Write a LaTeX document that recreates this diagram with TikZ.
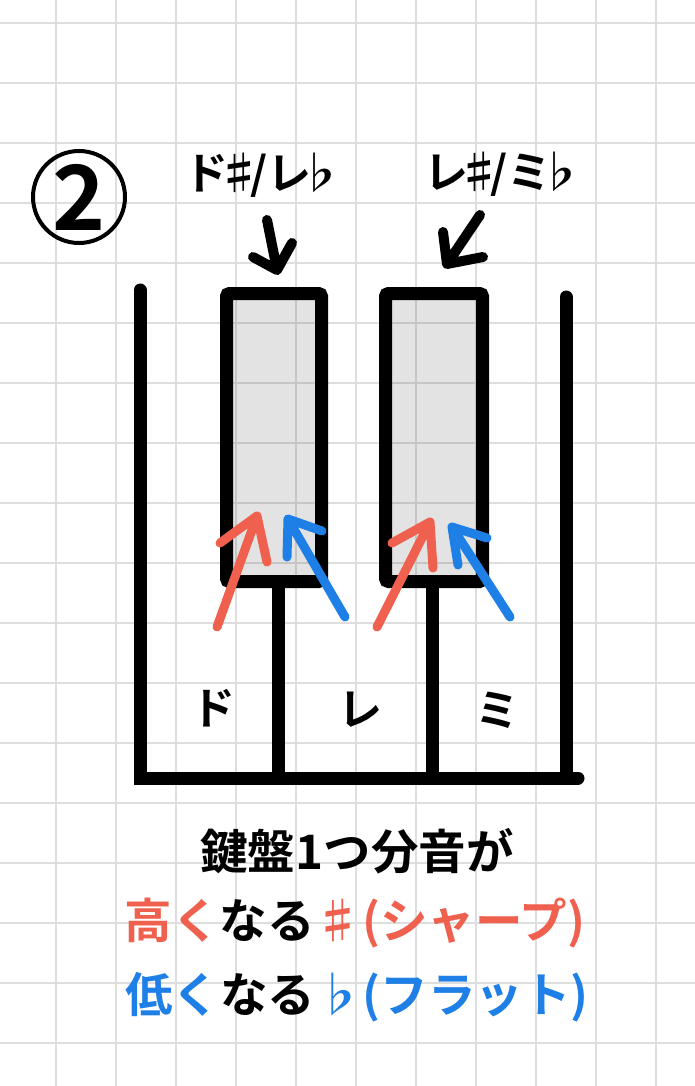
\documentclass[tikz,border=0pt]{standalone}
\usepackage{fontspec}
\newfontfamily\jp{Noto Sans CJK JP}[BoldFont={Noto Sans CJK JP Bold}]
\definecolor{sred}{HTML}{F0604E}
\definecolor{sblue}{HTML}{1E7FE6}
\definecolor{gridc}{HTML}{DEDEDE}
\newcommand\mysharp{\makebox[0.5em]{♯}}
\newcommand\myflat{\makebox[0.42em]{♭}}
\tikzset{
  gridline/.style={gridc, line width=2pt},
  keyline/.style={black, line width=13pt, line cap=round},
  blackkey/.style={draw=black, line width=13pt, rounded corners=3pt, fill=black, fill opacity=0.11, draw opacity=1},
  arr/.style={line width=9pt, line cap=round, line join=round},
  lbl/.style={font=\jp\bfseries\fontsize{44}{50}\selectfont, inner sep=0pt},
  big/.style={font=\jp\bfseries\fontsize{47.5}{52}\selectfont, inner sep=0pt},
}
\begin{document}
\begin{tikzpicture}[x=1pt,y=-1pt]
\useasboundingbox (0,0) rectangle (695,1086);
\fill[white] (0,0) rectangle (695,1086);
% grid
\foreach \x in {56,116,...,656} \draw[gridline] (\x,0) -- (\x,1086);
\foreach \y in {23,83,...,1043} \draw[gridline] (0,\y) -- (695,\y);
% black keys
\draw[blackkey] (226.5,293.5) rectangle (321.5,581.5);
\draw[blackkey] (385.5,293.5) rectangle (482.5,581.5);
% white key lines
\coordinate (lt) at (140,290);
\coordinate (lb) at (140,778);
\coordinate (rt) at (566,297);
\coordinate (rb) at (578,778);
\coordinate (d1t) at (278,585);
\coordinate (d1b) at (278,778);
\coordinate (d2t) at (432,585);
\coordinate (d2b) at (432,778);
\draw[keyline] (lt) -- (lb) -- (rb);
\draw[keyline] (rt) -- (566,778);
\draw[keyline] (d1t) -- (d1b);
\draw[keyline] (d2t) -- (d2b);
% black arrows
\draw[arr, line width=10pt] (267,220) -- (277,270) (253,257) -- (277,270) -- (292,243);
\draw[arr, line width=10pt] (480,215) -- (447,264) (443,232) -- (447,264) -- (483,257);
% red / blue arrows
\draw[arr, sred] (217,627) -- (257,516) (220,543) -- (257,516) -- (267,562);
\draw[arr, sblue] (345,617) -- (288,519) (287,557) -- (288,519) -- (322,531);
\draw[arr, sred] (377,627) -- (430,522) (392,543) -- (430,522) -- (433,568);
\draw[arr, sblue] (510,617) -- (452,527) (458,565) -- (452,527) -- (487,538);
% circled 2
\node[draw, circle, line width=4pt, minimum size=92pt, inner sep=0pt,
      font=\jp\bfseries\fontsize{90}{90}\selectfont] (num) at (79,197) {2};
% labels
\node[lbl] (l1) at (257,175) {ド\mysharp/レ\myflat};
\node[lbl] (l2) at (497,174) {レ\mysharp/ミ\myflat};
\node[lbl] (kd) at (213,708) {ド};
\node[lbl] (kr) at (360,710) {レ};
\node[lbl] (km) at (497,710) {ミ};
% bottom text
\node[big] (b1) at (357,851) {鍵盤1つ分音が};
\node[big] (b2) at (355,923) {{\color{sred}高く}なる{\color{sred}♯(シャープ)}};
\node[big] (b3) at (357,997) {{\color{sblue}低く}なる{\color{sblue}♭(フラット)}};
\end{tikzpicture}
\end{document}
